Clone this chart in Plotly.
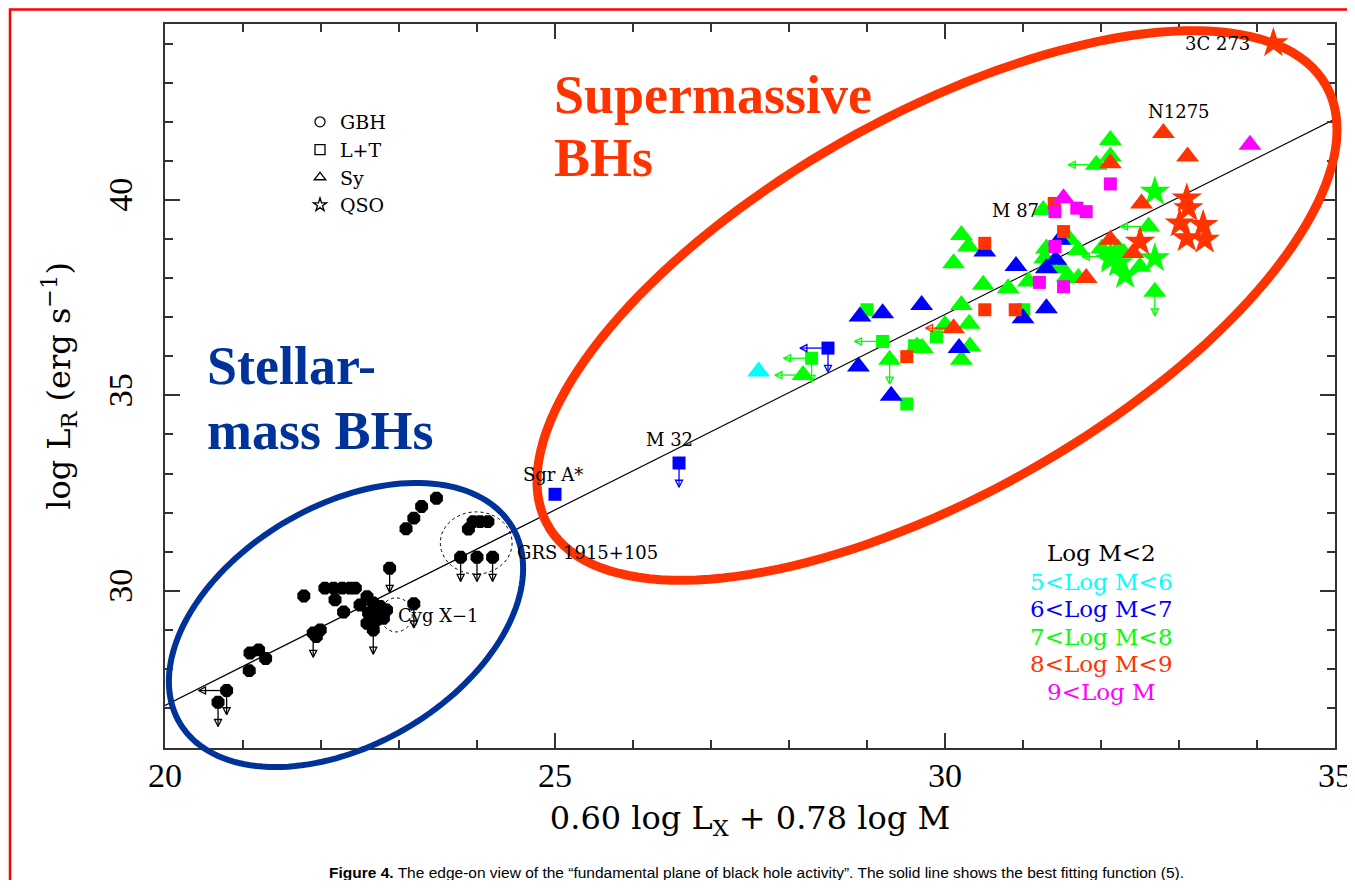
import numpy as np
import plotly.graph_objects as go

# ---------------- data ----------------
# x = 0.60 log Lx + 0.78 log M ; y = log L_R
# limit flags: "" detection, "d" upper limit (down arrow), "l" left arrow, "dl" both

# Galactic black holes (log M < 2)
gbh_x = [23.48, 23.29, 23.19, 23.09, 23.89, 23.95, 24.04, 24.14,
         22.05, 22.16, 22.27, 22.37, 22.44, 21.78, 22.18, 22.29,
         22.59, 22.50, 22.67, 22.76, 22.61, 22.71, 22.84, 22.59, 22.69, 22.80,
         21.99, 21.94, 21.09, 21.20, 21.29, 21.08,
         23.79, 24.00, 24.20, 22.88, 23.19, 22.67, 21.90, 20.79, 20.68]
gbh_y = [32.37, 32.16, 31.86, 31.59, 31.58, 31.77, 31.77, 31.77,
         30.07, 30.07, 30.07, 30.07, 30.07, 29.87, 29.77, 29.46,
         29.85, 29.64, 29.69, 29.60, 29.43, 29.43, 29.51, 29.17, 29.21, 29.30,
         29.00, 28.83, 28.41, 28.49, 28.27, 27.96,
         30.86, 30.86, 30.86, 30.58, 29.67, 29.00, 28.92, 27.45, 27.15]
gbh_lim = [""] * 32 + ["d", "d", "d", "d", "d", "d", "d", "dl", "d"]

# 5 < log M < 6 (cyan)
cyan_tri_x = [27.61]
cyan_tri_y = [35.61]
cyan_tri_lim = [""]

# 6 < log M < 7 (blue)
blue_sq_x = [25.00, 26.59, 28.50]
blue_sq_y = [32.47, 33.27, 36.21]
blue_sq_lim = ["", "d", "dl"]
blue_tri_x = [28.89, 28.91, 29.20, 29.31, 29.70, 30.18, 30.51, 30.91, 31.00,
              31.30, 31.42, 31.30, 31.47]
blue_tri_y = [35.74, 37.02, 37.10, 34.99, 37.31, 36.21, 38.68, 38.31, 36.97,
              37.23, 38.47, 38.25, 38.98]
blue_tri_lim = [""] * 13

# 7 < log M < 8 (green)
green_tri_x = [28.18, 29.29, 29.64, 29.71, 30.00, 30.32, 30.21, 30.31, 30.21,
               30.49, 30.81, 30.11, 30.21, 30.30, 31.07, 31.26, 31.30, 31.28,
               31.32, 31.60, 31.71, 31.50, 31.57, 31.71, 32.01, 32.12, 32.12,
               32.61, 32.50, 32.69, 32.22, 32.29, 31.94]
green_tri_y = [35.52, 35.91, 36.25, 36.21, 36.80, 36.25, 35.91, 36.83, 37.31,
               37.83, 37.74, 38.38, 39.10, 38.81, 37.91, 39.74, 38.76, 38.51,
               38.34, 38.98, 38.72, 38.25, 38.04, 38.00, 38.76, 41.53, 41.11,
               39.32, 38.29, 37.65, 38.76, 38.64, 40.90]
green_tri_lim = ["l", "d"] + [""] * 25 + ["l", "", "d", "", "", "l"]
green_sq_x = [28.29, 29.00, 29.20, 29.51, 29.61, 29.89, 31.01]
green_sq_y = [35.95, 37.19, 36.38, 34.78, 36.27, 36.50, 37.19]
green_sq_lim = ["dl", "", "l", "", "", "", ""]
green_star_x = [32.69, 32.69, 32.31, 32.12, 32.22, 32.12]
green_star_y = [40.21, 38.51, 38.08, 38.47, 38.38, 38.55]
green_star_lim = ["", "", "", "", "", "l"]

# 8 < log M < 9 (red)
red_tri_x = [30.11, 32.80, 33.11, 32.12, 32.52, 32.41, 31.81, 32.12]
red_tri_y = [36.72, 41.71, 41.11, 40.94, 39.91, 38.64, 38.00, 38.98]
red_tri_lim = ["l", "", "", "", "", "", "", ""]
red_sq_x = [29.51, 30.51, 30.90, 30.51, 31.40, 31.52]
red_sq_y = [35.99, 37.19, 37.19, 38.89, 39.91, 39.19]
red_sq_lim = [""] * 6
red_star_x = [34.21, 33.10, 33.12, 33.01, 33.31, 33.10, 33.33, 32.50]
red_star_y = [44.01, 40.04, 39.79, 39.40, 39.36, 39.02, 38.98, 38.93]
red_star_lim = [""] * 8

# 9 < log M (magenta)
mag_tri_x = [31.52, 33.91]
mag_tri_y = [40.04, 41.41]
mag_tri_lim = ["", ""]
mag_sq_x = [32.12, 31.41, 31.69, 31.81, 31.41, 31.21, 31.52]
mag_sq_y = [40.41, 39.70, 39.79, 39.70, 38.81, 37.89, 37.78]
mag_sq_lim = [""] * 7

# best-fitting relation
fit_x = [20.0, 35.0]
fit_y = [27.07, 42.07]

# object labels
label_text = ["3C 273", "N1275", "M 87", "M 32", "Sgr A*", "GRS 1915+105", "Cyg X\u22121"]
label_x = [33.94, 33.00, 30.90, 26.47, 24.97, 24.49, 22.96]
label_y = [43.99, 42.25, 39.74, 33.86, 32.97, 30.97, 29.36]
label_anchor = ["right", "center", "center", "center", "center", "left", "left"]

# class legend and mass-bin legend
class_names = ["GBH", "L+T", "Sy", "QSO"]
class_symbols = ["circle-open", "square-open", "triangle-up-open", "star-open"]
mass_labels = ["Log M&lt;2", "5&lt;Log M&lt;6", "6&lt;Log M&lt;7", "7&lt;Log M&lt;8",
               "8&lt;Log M&lt;9", "9&lt;Log M"]

# ---------------- style ----------------
C_BLACK = "#000000"
C_CYAN = "#00FFFF"
C_BLUE = "#0000FF"
C_GREEN = "#00FF00"
C_RED = "#FF3300"
C_MAG = "#FF00FF"
C_NAVY = "#003399"
mass_colors = [C_BLACK, C_CYAN, C_BLUE, C_GREEN, C_RED, C_MAG]
AXIS_COL = "#333333"

# page geometry: the page body has an 8px margin, figure starts at page (8, 8)
W, H = 1355, 872
PL, PR, PT, PB = 165, 1335, 24, 748          # plot area in page pixels
L, T = PL - 8, PT - 8
R, B = W - (PR - 8), H - (PB - 8)
PW, PH = PR - PL, PB - PT

DOWN_LEN = 0.62   # arrow length in y units
LEFT_LEN = 0.36   # arrow length in x units


def px2paper(px, py):
    return (np.asarray(px) - PL) / PW, (PB - np.asarray(py)) / PH


fig = go.Figure()

# best-fit line
fig.add_trace(go.Scatter(x=fit_x, y=fit_y, mode="lines",
                         line=dict(color="black", width=1.2), showlegend=False,
                         hoverinfo="skip"))

TRI, SQ, STAR = 20, 13, 23
groups = [
    (gbh_x, gbh_y, gbh_lim, C_BLACK, "octagon", 14),
    (cyan_tri_x, cyan_tri_y, cyan_tri_lim, C_CYAN, "triangle-up", TRI),
    (green_tri_x, green_tri_y, green_tri_lim, C_GREEN, "triangle-up", TRI),
    (green_sq_x, green_sq_y, green_sq_lim, C_GREEN, "square", SQ),
    (green_star_x, green_star_y, green_star_lim, C_GREEN, "star", STAR),
    (blue_tri_x, blue_tri_y, blue_tri_lim, C_BLUE, "triangle-up", TRI),
    (blue_sq_x, blue_sq_y, blue_sq_lim, C_BLUE, "square", SQ),
    (red_tri_x, red_tri_y, red_tri_lim, C_RED, "triangle-up", TRI),
    (red_sq_x, red_sq_y, red_sq_lim, C_RED, "square", SQ),
    (red_star_x, red_star_y, red_star_lim, C_RED, "star", STAR),
    (mag_tri_x, mag_tri_y, mag_tri_lim, C_MAG, "triangle-up", TRI),
    (mag_sq_x, mag_sq_y, mag_sq_lim, C_MAG, "square", SQ),
]

for gx, gy, glim, col, sym, size in groups:
    n = len(gx)
    dminus = [DOWN_LEN if "d" in f else 0 for f in glim]
    lminus = [LEFT_LEN if "l" in f else 0 for f in glim]
    fig.add_trace(go.Scatter(
        x=gx, y=gy, mode="markers", showlegend=False,
        marker=dict(symbol=sym, size=size, color=col, line=dict(width=0)),
        error_y=dict(type="data", symmetric=False, array=[0] * n, arrayminus=dminus,
                     width=0, thickness=1.3, color=col, visible=any(dminus)),
        error_x=dict(type="data", symmetric=False, array=[0] * n, arrayminus=lminus,
                     width=0, thickness=1.3, color=col, visible=any(lminus)),
        hoverinfo="x+y"))
    # arrowheads
    dx = [xv for xv, f in zip(gx, glim) if "d" in f]
    dy = [yv - DOWN_LEN for yv, f in zip(gy, glim) if "d" in f]
    if dx:
        fig.add_trace(go.Scatter(x=dx, y=dy, mode="markers", showlegend=False,
                                 hoverinfo="skip",
                                 marker=dict(symbol="arrow-down-open", size=7, color=col,
                                             line=dict(width=1.3, color=col))))
    lx = [xv - LEFT_LEN for xv, f in zip(gx, glim) if "l" in f]
    ly = [yv for yv, f in zip(gy, glim) if "l" in f]
    if lx:
        fig.add_trace(go.Scatter(x=lx, y=ly, mode="markers", showlegend=False,
                                 hoverinfo="skip",
                                 marker=dict(symbol="arrow-left-open", size=7, color=col,
                                             line=dict(width=1.3, color=col))))

# class legend (open symbols)
for nm, sym in zip(class_names, class_symbols):
    fig.add_trace(go.Scatter(x=[None], y=[None], mode="markers", name=nm,
                             marker=dict(symbol=sym, size=10, color="black",
                                         line=dict(width=1.3, color="black"))))

annotations = []
# object labels
for t, xv, yv, anc in zip(label_text, label_x, label_y, label_anchor):
    annotations.append(dict(x=xv, y=yv, xref="x", yref="y", text=t, showarrow=False,
                            xanchor=anc, yanchor="middle",
                            font=dict(family="DejaVu Serif", size=18, color="black")))

# mass-bin legend
mass_py = [553, 582, 609, 637, 664, 692]
for t, c, py in zip(mass_labels, mass_colors, mass_py):
    xp, yp = px2paper(1101, py)
    annotations.append(dict(x=float(xp), y=float(yp), xref="paper", yref="paper", text=t,
                            showarrow=False, xanchor="center", yanchor="middle",
                            font=dict(family="DejaVu Serif", size=23, color=c)))

# big overlay titles
big = [("Supermassive", 552, 95, C_RED), ("BHs", 552, 158, C_RED),
       ("Stellar-", 205, 366, C_NAVY), ("mass BHs", 205, 431, C_NAVY)]
for t, px, py, c in big:
    xp, yp = px2paper(px, py)
    annotations.append(dict(x=float(xp), y=float(yp), xref="paper", yref="paper",
                            text="<b>" + t + "</b>", showarrow=False, xanchor="left",
                            yanchor="middle",
                            font=dict(family="Liberation Serif", size=54, color=c)))

# caption
cxp, cyp = px2paper(756, 872)
annotations.append(dict(x=float(cxp), y=float(cyp), xref="paper", yref="paper",
                        text="<b>Figure 4.</b> The edge-on view of the \u201cfundamental plane of black hole activity\u201d. The solid line shows the best fitting function (5).",
                        showarrow=False, xanchor="center", yanchor="middle",
                        font=dict(family="Liberation Sans", size=15.5, color="black")))


# ellipses (decorations, page-pixel geometry)
def ellipse_path(cx, cy, a, b, theta_deg, n=160):
    t = np.linspace(0, 2 * np.pi, n)
    th = np.radians(theta_deg)
    xs = cx + a * np.cos(t) * np.cos(th) - b * np.sin(t) * np.sin(th)
    ys = cy - (a * np.cos(t) * np.sin(th) + b * np.sin(t) * np.cos(th))
    xp, yp = px2paper(xs, ys)
    pts = [f"{x:.5f},{y:.5f}" for x, y in zip(xp, yp)]
    return "M " + " L ".join(pts) + " Z"


fx0, fy0 = px2paper(10, 9.5)
fx1, fy1 = px2paper(1420, 900)
shapes = [
    dict(type="path", xref="paper", yref="paper", path=ellipse_path(937, 305.5, 447, 189, 29.5),
         line=dict(color=C_RED, width=9), layer="above"),
    dict(type="path", xref="paper", yref="paper", path=ellipse_path(346, 625, 193, 119.6, 30.4),
         line=dict(color=C_NAVY, width=6), layer="above"),
    # dashed circles around GRS 1915+105 and Cyg X-1
    dict(type="circle", xref="x", yref="y", x0=23.53, x1=24.45, y0=30.43, y1=32.02,
         line=dict(color="black", width=1, dash="dot"), layer="above"),
    dict(type="circle", xref="x", yref="y", x0=22.76, x1=23.17, y0=28.95, y1=29.82,
         line=dict(color="black", width=1, dash="dot"), layer="below"),
    # red page frame (left and top edges only are visible)
    dict(type="path", xref="paper", yref="paper",
         path=f"M {fx0:.5f},{fy1:.5f} L {fx0:.5f},{fy0:.5f} L {fx1:.5f},{fy0:.5f}",
         line=dict(color="#FF0000", width=2.5), layer="above"),
]

axis_common = dict(showgrid=False, zeroline=False, showline=True, linecolor=AXIS_COL,
                   linewidth=2, mirror="allticks", ticks="inside", ticklen=15,
                   tickwidth=1.5, tickcolor=AXIS_COL, automargin=False,
                   minor=dict(ticks="inside", dtick=1, ticklen=8, tickwidth=1.5,
                              tickcolor=AXIS_COL),
                   tickfont=dict(family="Liberation Serif", size=34, color="black"))

fig.update_layout(
    width=W, height=H, autosize=False,
    margin=dict(l=L, r=R, t=T, b=B, pad=0),
    paper_bgcolor="white", plot_bgcolor="white",
    xaxis=dict(range=[20, 35], tickvals=[20, 25, 30, 35], ticklabelstandoff=-4,
               title=dict(text="0.60 log L<sub>X</sub> + 0.78 log M", standoff=14,
                          font=dict(family="DejaVu Serif", size=32, color="black")),
               **axis_common),
    yaxis=dict(range=[25.98, 44.5], tickvals=[30, 35, 40], tickangle=-90,
               ticklabelstandoff=17,
               title=dict(text="log L<sub>R</sub> (erg s<sup>\u22121</sup>)", standoff=22,
                          font=dict(family="DejaVu Serif", size=32, color="black")),
               **axis_common),
    legend=dict(x=float(px2paper(300, 0)[0]), y=float(px2paper(0, 103)[1]),
                xanchor="left", yanchor="top", bgcolor="rgba(0,0,0,0)",
                font=dict(family="DejaVu Serif", size=19, color="black"),
                itemsizing="trace"),
    annotations=annotations,
    shapes=shapes,
)

fig.write_html("out.html")
